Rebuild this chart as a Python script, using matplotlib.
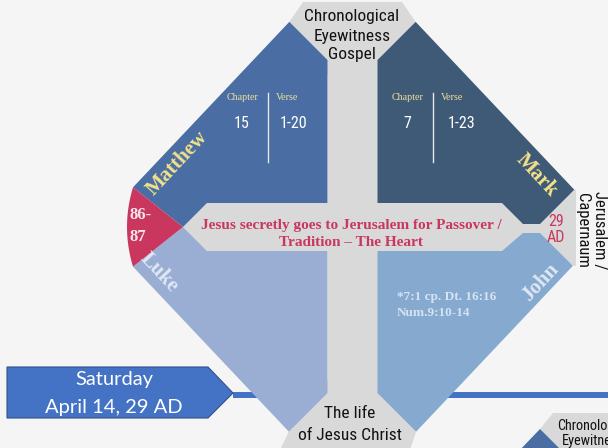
#!/usr/bin/env python3
"""
Gospel harmony diamond: Jesus secretly goes to Jerusalem for Passover.
Four gospel quadrants around a gray cross, with a timeline marker at bottom-left.
"""

import numpy as np
import matplotlib
matplotlib.use('Agg')
import matplotlib.pyplot as plt
from matplotlib.patches import Polygon
from matplotlib import font_manager as fm

# ── Content ─────────────────────────────────────────────────────────────────
GOSPELS      = ['Matthew', 'Mark', 'Luke', 'John']
CHAPTERS     = ['15', '7']          # Matthew, Mark
VERSES       = ['1-20', '1-23']     # Matthew, Mark
COL_HEADERS  = ['Chapter', 'Verse']
TOP_LINES    = ['Chronological', 'Eyewitness', 'Gospel']
BOTTOM_LINES = ['The life', 'of Jesus Christ']
EVENT_LINES  = ['Jesus secretly goes to Jerusalem for Passover /', 'Tradition \u2013 The Heart']
LEFT_CAP     = ['86-', '87']
RIGHT_CAP    = ['29', 'AD']
PLACE_LINES  = ['Jerusalem /', 'Capernaum']
JOHN_NOTE    = ['*7:1 cp. Dt. 16:16', 'Num.9:10-14']
DATE_LINES   = ['Saturday', 'April 14, 29 AD']

# ── Style ───────────────────────────────────────────────────────────────────
BG        = '#f5f5f5'
GRAY      = '#d9d9d9'
C_MATTHEW = '#4a6ea4'
C_MARK    = '#3f5a76'
C_LUKE    = '#9aaed4'
C_JOHN    = '#86a9cf'
C_RED     = '#c9375f'
C_TIMEBOX = '#4472c4'
YELLOW    = '#f3e28a'
PALE      = '#dfe7f3'

SERIF = ['Liberation Serif', 'DejaVu Serif']
SANS  = ['Lato', 'DejaVu Sans']

# pick a condensed sans for the cap labels, whatever is installed
NARROW_FP = None
_pref = ['RobotoCondensed-Regular', 'LiberationSansNarrow-Regular', 'DejaVuSansCondensed.',
         'OpenSans_Condensed-Regular', 'OpenSansCondensed-Regular', 'NotoSans-Condensed',
         'NotoSansDisplay-Condensed']
_files = [f.fname for f in fm.fontManager.ttflist]
for key in _pref:
    hits = [f for f in _files if key in f.split('/')[-1]]
    if hits:
        NARROW_FP = hits[0]
        break


def narrow(size):
    if NARROW_FP:
        return fm.FontProperties(fname=NARROW_FP, size=size)
    return fm.FontProperties(family=['Roboto', 'DejaVu Sans'], size=size * 0.85)


# ── Geometry (pixel space, y down) ──────────────────────────────────────────
CX, CY = 352.5, 227.0
RX, RY = 257.0, 272.0            # diamond half-diagonals
VX0, VX1 = 327.5, 377.5          # vertical bar
HY0, HY1 = 203.0, 251.0          # horizontal bar
TOP_IN, BOT_IN = 60.0, 393.0     # where quadrant tips are chamfered
TIP_L = 183.0                    # left arrow tip of the bar
CAP_L = 133.0                    # red cap edge
NOTCH = (502.0, 523.0, 540.0)    # right end notch x positions
NOTCH_Y = (224.0, 233.0)
CAP_R = 576.0


def hit(px, py, dx, dy, sx, sy):
    """Walk from (px, py) along (dx, dy) until the diamond edge of quadrant (sx, sy)."""
    a = sx * dx / RX + sy * dy / RY
    b = sx * (px - CX) / RX + sy * (py - CY) / RY
    t = (1 - b) / a
    return (px + t * dx, py + t * dy)


def edge_y(x, sy):
    return CY + sy * RY * (1 - abs(x - CX) / RX)


fig = plt.figure(figsize=(6.08, 4.48), dpi=100)
fig.patch.set_facecolor(BG)
ax = fig.add_axes([0, 0, 1, 1])
ax.set_xlim(0, 608)
ax.set_ylim(448, 0)
ax.axis('off')


def poly(pts, color, z=2, **kw):
    ax.add_patch(Polygon(pts, closed=True, facecolor=color, edgecolor='none', zorder=z, **kw))


# ── Timeline connector and date box ─────────────────────────────────────────
ax.plot([233, 610], [395, 395], color=C_TIMEBOX, lw=4.3, solid_capstyle='butt', zorder=1)
ax.add_patch(Polygon([(7, 367), (208, 367), (233, 393), (208, 418), (7, 418)], closed=True,
                     facecolor=C_TIMEBOX, edgecolor='#2f528f', lw=0.8, zorder=2))
ax.text(114, 380, DATE_LINES[0], ha='center', va='center', color='white',
        fontsize=14.5, family=SANS, zorder=3)
ax.text(114, 407, DATE_LINES[1], ha='center', va='center', color='white',
        fontsize=14.5, family=SANS, zorder=3)

# ── Quadrant corner points ──────────────────────────────────────────────────
mt_top = hit(VX0, TOP_IN, -1, -1, -1, -1)
mk_top = hit(VX1, TOP_IN, 1, -1, 1, -1)
lk_bot = hit(VX0, BOT_IN, -1, 1, -1, 1)
jn_bot = hit(VX1, BOT_IN, 1, 1, 1, 1)
mk_right = hit(NOTCH[2], NOTCH_Y[0], 1, -1, 1, -1)
jn_right = hit(NOTCH[2], NOTCH_Y[1], 1, 1, 1, 1)
red_top = (CAP_L, edge_y(CAP_L, -1))
red_bot = (CAP_L, edge_y(CAP_L, 1))

# ── Gray cross with caps ────────────────────────────────────────────────────
poly([mt_top, (303, 2), (402, 2), mk_top, (VX1, 75), (VX0, 75)], GRAY)
poly([(VX0, 50), (VX1, 50), (VX1, 400), (VX0, 400)], GRAY)
poly([lk_bot, (280, 450), (410, 450), jn_bot, (VX1, 380), (VX0, 380)], GRAY)
poly([(TIP_L, CY), (TIP_L + CY - HY0, HY0), (545, HY0), (545, HY1), (TIP_L + HY1 - CY, HY1)], GRAY)
poly([(530, 228.5), mk_right, (CAP_R, mk_right[1]), (CAP_R, jn_right[1]), jn_right], GRAY)

# ── Gospel quadrants ────────────────────────────────────────────────────────
poly([mt_top, (VX0, TOP_IN), (VX0, HY0), (TIP_L + CY - HY0, HY0), (TIP_L, CY), red_top], C_MATTHEW, 3)
poly([mk_top, mk_right, (NOTCH[2], NOTCH_Y[0]), (NOTCH[1], NOTCH_Y[0]), (NOTCH[0], HY0),
      (VX1, HY0), (VX1, TOP_IN)], C_MARK, 3)
poly([red_bot, (TIP_L, CY), (TIP_L + HY1 - CY, HY1), (VX0, HY1), (VX0, BOT_IN), lk_bot], C_LUKE, 3)
poly([(VX1, HY1), (NOTCH[0], HY1), (NOTCH[1], NOTCH_Y[1]), (NOTCH[2], NOTCH_Y[1]), jn_right,
      jn_bot, (VX1, BOT_IN)], C_JOHN, 3)

# red left cap with a slightly rounded outer edge
s = np.linspace(0, 1, 20)
arc_x = (1 - s) ** 2 * red_bot[0] + 2 * s * (1 - s) * (CAP_L - 12) + s ** 2 * red_top[0]
arc_y = (1 - s) ** 2 * red_bot[1] + 2 * s * (1 - s) * CY + s ** 2 * red_top[1]
poly([(TIP_L, CY)] + list(zip(arc_x, arc_y)), C_RED, 4)

# ── Cap texts ───────────────────────────────────────────────────────────────
for txt, y in zip(TOP_LINES, [16, 36, 55]):
    ax.text(352, y, txt, ha='center', va='center', fontproperties=narrow(12.5), color='#111111', zorder=5)
for txt, y in zip(BOTTOM_LINES, [413, 435]):
    ax.text(350, y, txt, ha='center', va='center', fontproperties=narrow(12.5), color='#111111', zorder=5)
for txt, y in zip(EVENT_LINES, [225, 243]):
    ax.text(351, y, txt, ha='center', va='center', fontsize=11, family=SERIF, weight='bold',
            color=C_RED, zorder=5)
for txt, y in zip(LEFT_CAP, [215, 237]):
    ax.text(130, y, txt, ha='left', va='center', fontsize=12, family=SERIF, weight='bold',
            color='#f6e6ec', zorder=5)
for txt, y in zip(RIGHT_CAP, [222, 238]):
    ax.text(556, y, txt, ha='center', va='center', fontproperties=narrow(11.5), color=C_RED, zorder=5)
for txt, x in zip(PLACE_LINES, [599, 583]):
    ax.text(x, 230, txt, ha='center', va='center', rotation=-90, fontproperties=narrow(12),
            color='#111111', zorder=5)

# ── Gospel names ────────────────────────────────────────────────────────────
name_pos = [(177, 163, 47, YELLOW), (537, 175, -47, YELLOW), (159, 273, -47, PALE), (540, 282, 47, PALE)]
for name, (x, y, rot, col) in zip(GOSPELS, name_pos):
    ax.text(x, y, name, ha='center', va='center', rotation=rot, rotation_mode='anchor',
            fontsize=15, family=SERIF, weight='bold', color=col, zorder=5)

# ── Chapter / verse tables ──────────────────────────────────────────────────
for i, x0 in enumerate([268, 433]):
    ax.plot([x0, x0], [93, 162], color='#e8e8e8', lw=1.0, zorder=5)
    ax.text(x0 - 25, 97, COL_HEADERS[0], ha='center', va='center', fontsize=7.2, family=SERIF,
            color='#efdf9a', zorder=5)
    ax.text(x0 + 19, 97, COL_HEADERS[1], ha='center', va='center', fontsize=7.2, family=SERIF,
            color='#efdf9a', zorder=5)
    ax.text(x0 - 26, 123, CHAPTERS[i], ha='center', va='center', fontproperties=narrow(11.5),
            color='white', zorder=5)
    ax.text(x0 + 26 + 3 * i, 123, VERSES[i], ha='center', va='center', fontproperties=narrow(11.5),
            color='white', zorder=5)

for txt, y in zip(JOHN_NOTE, [297, 313]):
    ax.text(397, y, txt, ha='left', va='center', fontsize=9.5, family=SERIF, weight='bold',
            color='#d6e3f1', zorder=5)

# ── Next diagram peeking in at bottom-right ─────────────────────────────────
poly([(540, 429), (553, 413), (612, 413), (612, 452), (560, 452)], GRAY)
poly([(540, 429), (518, 452), (563, 452)], C_MATTHEW, 3)
ax.text(557, 426, 'Chronological', ha='left', va='center', fontproperties=narrow(10.3),
        color='#111111', zorder=5)
ax.text(562, 441, 'Eyewitness', ha='left', va='center', fontproperties=narrow(10.3),
        color='#111111', zorder=5)

fig.savefig('out.png', dpi=100, facecolor=BG)
plt.close()
